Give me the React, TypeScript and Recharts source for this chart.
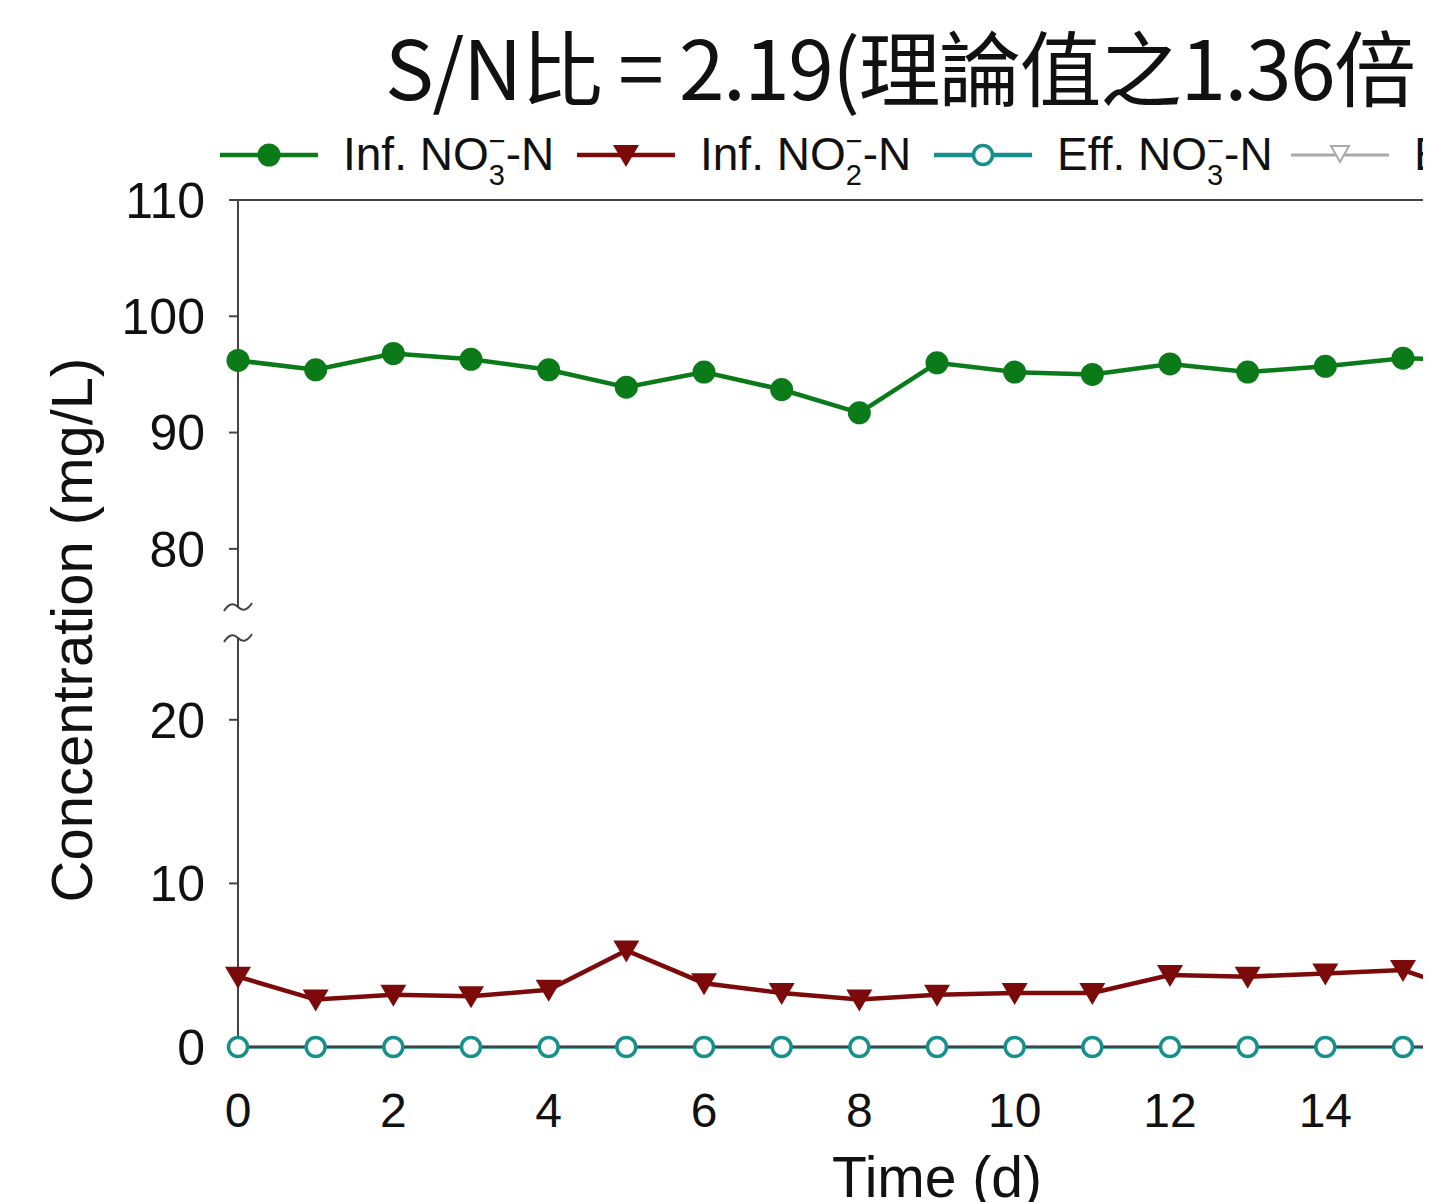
import React from "react";
import { LineChart, Line, XAxis, YAxis, ReferenceLine, ReferenceDot } from "recharts";

const days = [0, 1, 2, 3, 4, 5, 6, 7, 8, 9, 10, 11, 12, 13, 14, 15, 16];
const infNO3 = [96.2, 95.4, 96.8, 96.3, 95.4, 93.9, 95.2, 93.7, 91.7, 96.0, 95.2, 95.0, 95.9, 95.2, 95.7, 96.4, 96.2];
const infNO2 = [4.3, 2.9, 3.2, 3.1, 3.5, 5.9, 3.9, 3.3, 2.9, 3.2, 3.3, 3.3, 4.4, 4.3, 4.5, 4.7, 3.1];
const effNO3 = [0, 0, 0, 0, 0, 0, 0, 0, 0, 0, 0, 0, 0, 0, 0, 0, 0];
const effNO2 = [0, 0, 0, 0, 0, 0, 0, 0, 0, 0, 0, 0, 0, 0, 0, 0, 0];

const xTicks = [0, 2, 4, 6, 8, 10, 12, 14, 16, 18];
const upperTicks = [80, 90, 100, 110];
const lowerTicks = [0, 10, 20];

const legendNames = ["Inf. NO", "Inf. NO", "Eff. NO", "Eff. NO"];
const legendSubs = ["3", "2", "3", "2"];

const GREEN = "#0b7a18";
const RED = "#7d0a0a";
const TEAL = "#17908c";
const GREY = "#a9a9a9";
const AXIS = "#444";
const FONT = "'Liberation Sans', Arial, sans-serif";

const data = days.map((d, i) => ({
  day: d,
  infNO3: infNO3[i],
  infNO2: infNO2[i],
  effNO3: effNO3[i],
  effNO2: effNO2[i],
}));

const GreenDot = (p: any) => <circle key={p.key} cx={p.cx} cy={p.cy} r={11.5} fill={GREEN} />;
const RedTri = (p: any) => (
  <path key={p.key} d={`M${p.cx - 13},${p.cy - 10}L${p.cx + 13},${p.cy - 10}L${p.cx},${p.cy + 12}Z`} fill={RED} />
);
const TealRing = (p: any) => (
  <circle key={p.key} cx={p.cx} cy={p.cy} r={9.5} fill="#fff" stroke={TEAL} strokeWidth={3.5} />
);
const GreyTri = (p: any) => (
  <path key={p.key} d={`M${p.cx - 5},${p.cy - 4}L${p.cx + 5},${p.cy - 4}L${p.cx},${p.cy + 5}Z`} fill="#fff" stroke={GREY} strokeWidth={2} />
);

// axis break mark
const Squiggle = (p: any) => (
  <path
    d={`M${p.cx - 14},${p.cy + 4} Q${p.cx - 7},${p.cy - 7} ${p.cx},${p.cy} T${p.cx + 14},${p.cy - 4}`}
    fill="none"
    stroke={AXIS}
    strokeWidth={2}
  />
);

const markers = [GreenDot, RedTri, TealRing, GreyTri];
const markerColors = [GREEN, RED, TEAL, GREY];

function LegendRow() {
  return (
    <svg width={1431} height={200} style={{ position: "absolute", left: 0, top: 0 }}>
      <text x={385} y={100} fontFamily="'Noto Sans CJK TC', sans-serif" fontSize={82} fill="#111" letterSpacing={-1.5}>
        S/N比 = 2.19(理論值之1.36倍 )
      </text>
      {legendNames.map((name, i) => {
        const x0 = 220 + i * 357;
        const M = markers[i];
        return (
          <g key={i}>
            <line x1={x0} x2={x0 + 98} y1={155} y2={155} stroke={markerColors[i]} strokeWidth={i === 3 ? 3 : 4.5} />
            {i === 3 ? (
              <path d={`M${x0 + 40},${146}L${x0 + 58},${146}L${x0 + 49},${162}Z`} fill="#fff" stroke={GREY} strokeWidth={2} />
            ) : (
              M({ cx: x0 + 49, cy: 155 })
            )}
            <text x={x0 + 123} y={170} fontFamily={FONT} fontSize={46} fill="#111">
              {name}
              <tspan fontSize={29} dy={15}>{legendSubs[i]}</tspan>
              <tspan fontSize={29} dx={-16} dy={-34}>−</tspan>
              <tspan fontSize={46} dy={19}>-N</tspan>
            </text>
          </g>
        );
      })}
    </svg>
  );
}

const yTickStyle = { fontSize: 50, fill: "#111", fontFamily: FONT };
const xTickStyle = { fontSize: 48, fill: "#111", fontFamily: FONT };

export default function App() {
  return (
    <div style={{ position: "relative", width: 1431, height: 1202, overflow: "hidden", margin: "-8px 0 0 -8px", background: "#fff" }}>
      <LegendRow />
      <svg width={140} height={1202} style={{ position: "absolute", left: 0, top: 0 }}>
        <text x={92} y={630} transform="rotate(-90 92 630)" textAnchor="middle" fontFamily={FONT} fontSize={58} fill="#111">
          Concentration (mg/L)
        </text>
      </svg>
      <div style={{ position: "absolute", left: 0, top: 0 }}>
        <LineChart width={1660} height={620} data={data} margin={{ top: 200, right: 24, bottom: 13, left: 118 }}>
          <XAxis dataKey="day" type="number" domain={[0, 18]} ticks={xTicks} hide />
          <YAxis
            width={120}
            domain={[75, 110]}
            ticks={upperTicks}
            tickSize={9}
            tickMargin={24}
            tick={yTickStyle}
            axisLine={{ stroke: AXIS, strokeWidth: 2 }}
            tickLine={{ stroke: AXIS, strokeWidth: 2 }}
          />
          <ReferenceLine y={110} stroke={AXIS} strokeWidth={2} />
          <ReferenceDot x={0} y={75} r={0} shape={Squiggle} />
          <Line dataKey="infNO3" stroke={GREEN} strokeWidth={4.5} dot={GreenDot} isAnimationActive={false} />
        </LineChart>
      </div>
      <div style={{ position: "absolute", left: 0, top: 600 }}>
        <LineChart width={1660} height={602} data={data} margin={{ top: 38, right: 24, bottom: 0, left: 118 }}>
          <XAxis
            dataKey="day"
            type="number"
            domain={[0, 18]}
            ticks={xTicks}
            height={155}
            tickSize={8}
            tickMargin={38}
            tick={xTickStyle}
            tickLine={false}
            axisLine={{ stroke: AXIS, strokeWidth: 2 }}
            label={{ value: "Time (d)", position: "insideBottom", offset: 5, fontSize: 57, fill: "#111", fontFamily: FONT }}
          />
          <YAxis
            width={120}
            domain={[0, 25]}
            ticks={lowerTicks}
            tickSize={9}
            tickMargin={24}
            tick={yTickStyle}
            axisLine={{ stroke: AXIS, strokeWidth: 2 }}
            tickLine={{ stroke: AXIS, strokeWidth: 2 }}
          />
          <ReferenceDot x={0} y={25} r={0} shape={Squiggle} />
          <Line dataKey="effNO2" stroke={GREY} strokeWidth={2} dot={GreyTri} isAnimationActive={false} />
          <Line dataKey="infNO2" stroke={RED} strokeWidth={4.5} dot={RedTri} isAnimationActive={false} />
          <Line dataKey="effNO3" stroke={TEAL} strokeWidth={3.5} dot={TealRing} isAnimationActive={false} />
        </LineChart>
      </div>
    </div>
  );
}
